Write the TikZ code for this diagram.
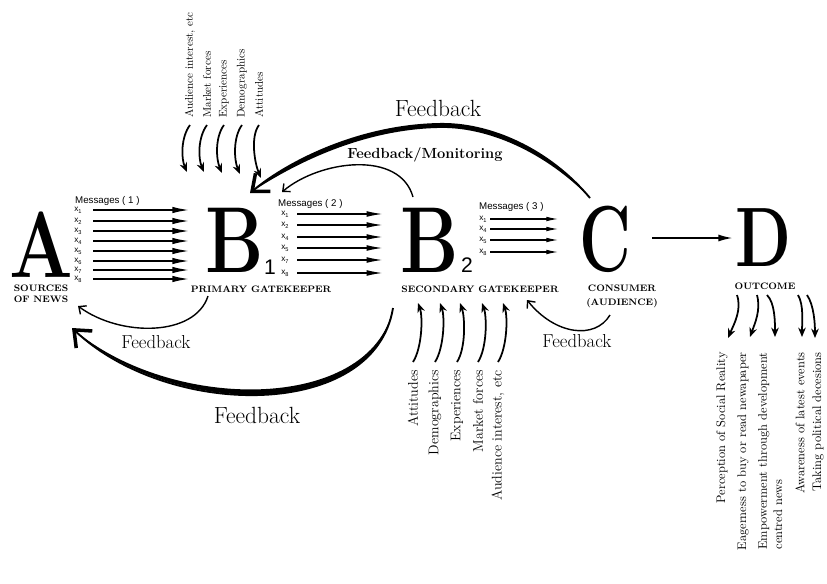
\documentclass[tikz,border=0pt]{standalone}
\usepackage{fontspec}
\usepackage{graphicx}
\usetikzlibrary{arrows.meta}
\newfontfamily\sansmsg{Liberation Sans}
\newcommand{\xsub}[1]{x\raisebox{-0.5ex}{\fontsize{4.8}{5}\selectfont #1}}

\tikzset{
  letter/.style={inner sep=0pt, anchor=base, font=\fontsize{80}{80}\selectfont\bfseries},
  tag/.style={inner sep=0pt, anchor=base, font=\fontsize{8}{9}\selectfont\bfseries},
  subnum/.style={inner sep=0pt, anchor=base, font=\sansmsg\fontsize{18}{18}\selectfont},
  msglabel/.style={inner sep=0pt, anchor=base west, font=\sansmsg\fontsize{8.3}{9}\selectfont},
  xlab/.style={inner sep=0pt, font=\sansmsg\fontsize{7}{7}\selectfont},
  msgA/.style={line width=1.7pt, -{Latex[length=15pt,width=5.5pt]}},
  msgB/.style={line width=1.3pt, -{Latex[length=14pt,width=5pt]}},
  msgC/.style={line width=0.9pt, -{Latex[length=10pt,width=4pt]}},
  infl/.style={line width=1.5pt, -{Stealth[length=8pt,width=6.5pt]}},
  fbthin/.style={line width=1.2pt, -{Straight Barb[length=5pt,width=9pt]}},
  fbthick/.style={line width=1.6pt, -{Straight Barb[length=12pt,width=20pt,line width=3pt]}},
  lens/.style={fill=black},
  fblab/.style={inner sep=0pt, font=\fontsize{16}{18}\selectfont},
  fbbig/.style={inner sep=0pt, font=\fontsize{20}{24}\selectfont},
  fbmon/.style={inner sep=0pt, anchor=base, font=\fontsize{12.5}{14}\selectfont\bfseries},
  factorT/.style={inner sep=0pt, rotate=90, anchor=west, font=\fontsize{9.5}{11}\selectfont},
  factorB/.style={inner sep=0pt, rotate=90, anchor=east, font=\fontsize{12}{14}\selectfont},
  effect/.style={inner sep=0pt, rotate=90, anchor=east, font=\fontsize{10.6}{13}\selectfont},
}

\begin{document}
\begin{tikzpicture}[x=0.03cm, y=-0.03cm]
\fill[white] (0,0) rectangle (827,584);
\useasboundingbox (0,0) rectangle (827,584);

% ---- the five stages ----
\node[letter] (A)  at (41,277)  {\scalebox{0.8}[1]{A}};
\node[letter] (B1) at (235,272) {\scalebox{0.78}[1]{B}};
\node[subnum] (s1) at (270,274) {1};
\node[letter] (B2) at (430,272) {\scalebox{0.78}[1]{B}};
\node[subnum] (s2) at (467,272) {2};
\node[letter] (C)  at (605,271) {\scalebox{0.68}[1]{C}};
\node[letter, font=\fontsize{72}{72}\selectfont\bfseries] (D) at (763,266) {\scalebox{0.77}[1]{D}};

\node[tag] (tA1) at (41,291)  {SOURCES};
\node[tag] (tA2) at (41,302)  {OF NEWS};
\node[tag] (tB1) at (261,292) {PRIMARY GATEKEEPER};
\node[tag] (tB2) at (480,292) {SECONDARY GATEKEEPER};
\node[tag] (tC1) at (622,291) {CONSUMER};
\node[tag] (tC2) at (622,305) {(AUDIENCE)};
\node[tag] (tD)  at (765,289) {OUTCOME};

% ---- messages A -> B1 ----
\node[msglabel] (m1) at (75,203.5) {Messages ( 1 )};
\coordinate (m1s) at (93,0);
\coordinate (m1e) at (190,0);
\foreach \n/\y in {1/210,2/221,3/231,4/241,5/251,6/261,7/270,8/279} {
  \node[xlab] (pa\n) at (78,\y) {\xsub{\n}};
  \draw[msgA] (pa\n -| m1s) -- (pa\n -| m1e);
}

% ---- messages B1 -> B2 ----
\node[msglabel] (m2) at (278,206.5) {Messages ( 2 )};
\coordinate (m2s) at (297,0);
\coordinate (m2e) at (383,0);
\foreach \n/\y in {1/214,2/225,4/237,5/248,7/260,8/273} {
  \node[xlab] (pb\n) at (285,\y) {\xsub{\n}};
  \draw[msgB] (pb\n -| m2s) -- (pb\n -| m2e);
}

% ---- messages B2 -> C ----
\node[msglabel] (m3) at (479,209.5) {Messages ( 3 )};
\coordinate (m3s) at (490,0);
\coordinate (m3e) at (558,0);
\foreach \n/\y in {1/219,4/229,5/240,8/252} {
  \node[xlab] (pc\n) at (483,\y) {\xsub{\n}};
  \draw[msgC] (pc\n -| m3s) -- (pc\n -| m3e);
}

% ---- C -> D ----
\coordinate (cdS) at (652,238);
\draw[line width=1.3pt, -{Latex[length=12pt,width=6pt]}, shorten >=2pt] (cdS) -- (cdS -| D.west);

% ---- influences on the primary gatekeeper ----
\foreach \i/\xt/\xb/\yb/\txt in {1/190/187/172/{Audience interest, etc},
                                 2/207/204/172/{Market forces},
                                 3/224/222/173/{Experiences},
                                 4/242/240/174/{Demographics},
                                 5/259/261/178/{Attitudes}} {
  \node[factorT] (ft\i) at (\xt,118) {\txt};
  \coordinate (tin\i) at (\xt,125);
  \coordinate (tib\i) at (\xb,\yb);
  \draw[infl] (tin\i) .. controls +(-9,12) and +(-6,-14) .. (tib\i);
}

% ---- influences on the secondary gatekeeper ----
\foreach \i/\xb/\xt/\txt in {1/413/418/{Attitudes},
                             2/435/440/{Demographics},
                             3/457/460/{Experiences},
                             4/478/482/{Market forces},
                             5/498/503/{Audience interest, etc}} {
  \node[factorB] (fb\i) at (\xb,370) {\txt};
  \coordinate (bin\i) at (\xb,362);
  \coordinate (bit\i) at (\xt,303);
  \draw[infl] (bin\i) .. controls +(9,-14) and +(5,14) .. (bit\i);
}

% ---- outcomes ----
\coordinate (o1s) at (737,295); \coordinate (o1e) at (728,338);
\coordinate (o2s) at (757,295); \coordinate (o2e) at (750,337);
\coordinate (o3s) at (767,295); \coordinate (o3e) at (775,337);
\coordinate (o4s) at (798,295); \coordinate (o4e) at (802,337);
\coordinate (o5s) at (807,295); \coordinate (o5e) at (815,338);
\draw[infl] (o1s) .. controls +(5,15) and +(6,-14) .. (o1e);
\draw[infl] (o2s) .. controls +(4,15) and +(5,-14) .. (o2e);
\draw[infl] (o3s) .. controls +(8,8) and +(0,-15) .. (o3e);
\draw[infl] (o4s) .. controls +(6,10) and +(0,-14) .. (o4e);
\draw[infl] (o5s) .. controls +(7,10) and +(0,-14) .. (o5e);

\node[effect] (e1) at (722,352) {Perception of Social Reality};
\node[effect] (e2) at (743,352) {Eagerness to buy or read newapaper};
\node[effect, anchor=north east, align=left] (e3) at (758,352) {Empowerment through development\\centred news};
\node[effect] (e4) at (800,352) {Awareness of latest events};
\node[effect] (e5) at (818,352) {Taking political decesions};

% ---- feedback loops ----
% C back to the primary gatekeeper
\coordinate (fbTopS) at (590,198);
\coordinate (fbTopM) at (437,124);
\coordinate (fbTopE) at (250,193);
\draw[fbthick] (fbTopS) .. controls (550,150) and (490,122) .. (fbTopM) .. controls (360,126) and (290,160) .. (fbTopE);
\fill[lens] (fbTopS) .. controls (550,150) and (490,122) .. (fbTopM) .. controls (360,126) and (290,160) .. (fbTopE)
   .. controls (292,165) and (360,130) .. (437,128) .. controls (488,126) and (546,153) .. (fbTopS) -- cycle;
\node[fbbig] (lTop) at (438,108) {Feedback};

% secondary gatekeeper monitoring the primary one
\coordinate (fbMS) at (413,197);
\coordinate (fbME) at (282,192);
\draw[fbthin] (fbMS) .. controls (400,150) and (320,160) .. (fbME);
\node[fbmon] (lMon) at (425,158) {Feedback/Monitoring};

% primary gatekeeper back to the sources
\coordinate (fbAS) at (208,296);
\coordinate (fbAE) at (78,306);
\draw[fbthin] (fbAS) .. controls (195,337) and (120,337) .. (fbAE);
\node[fblab] (lA) at (156,342) {Feedback};

% secondary gatekeeper back to the sources
\coordinate (fbBotS) at (393,308);
\coordinate (fbBotE) at (72,328);
\draw[fbthick] (fbBotS) .. controls (375,420) and (170,420) .. (fbBotE);
\fill[lens] (fbBotS) .. controls (375,420) and (170,420) .. (fbBotE)
   .. controls (170,413) and (371,413) .. (fbBotS) -- cycle;
\node[fbbig] (lBot) at (257,415) {Feedback};

% consumer back to the secondary gatekeeper
\coordinate (fbCS) at (610,315);
\coordinate (fbCE) at (527,300);
\draw[fbthin] (fbCS) .. controls (595,340) and (555,335) .. (fbCE);
\node[fblab] (lC) at (577,341) {Feedback};

\end{tikzpicture}
\end{document}
